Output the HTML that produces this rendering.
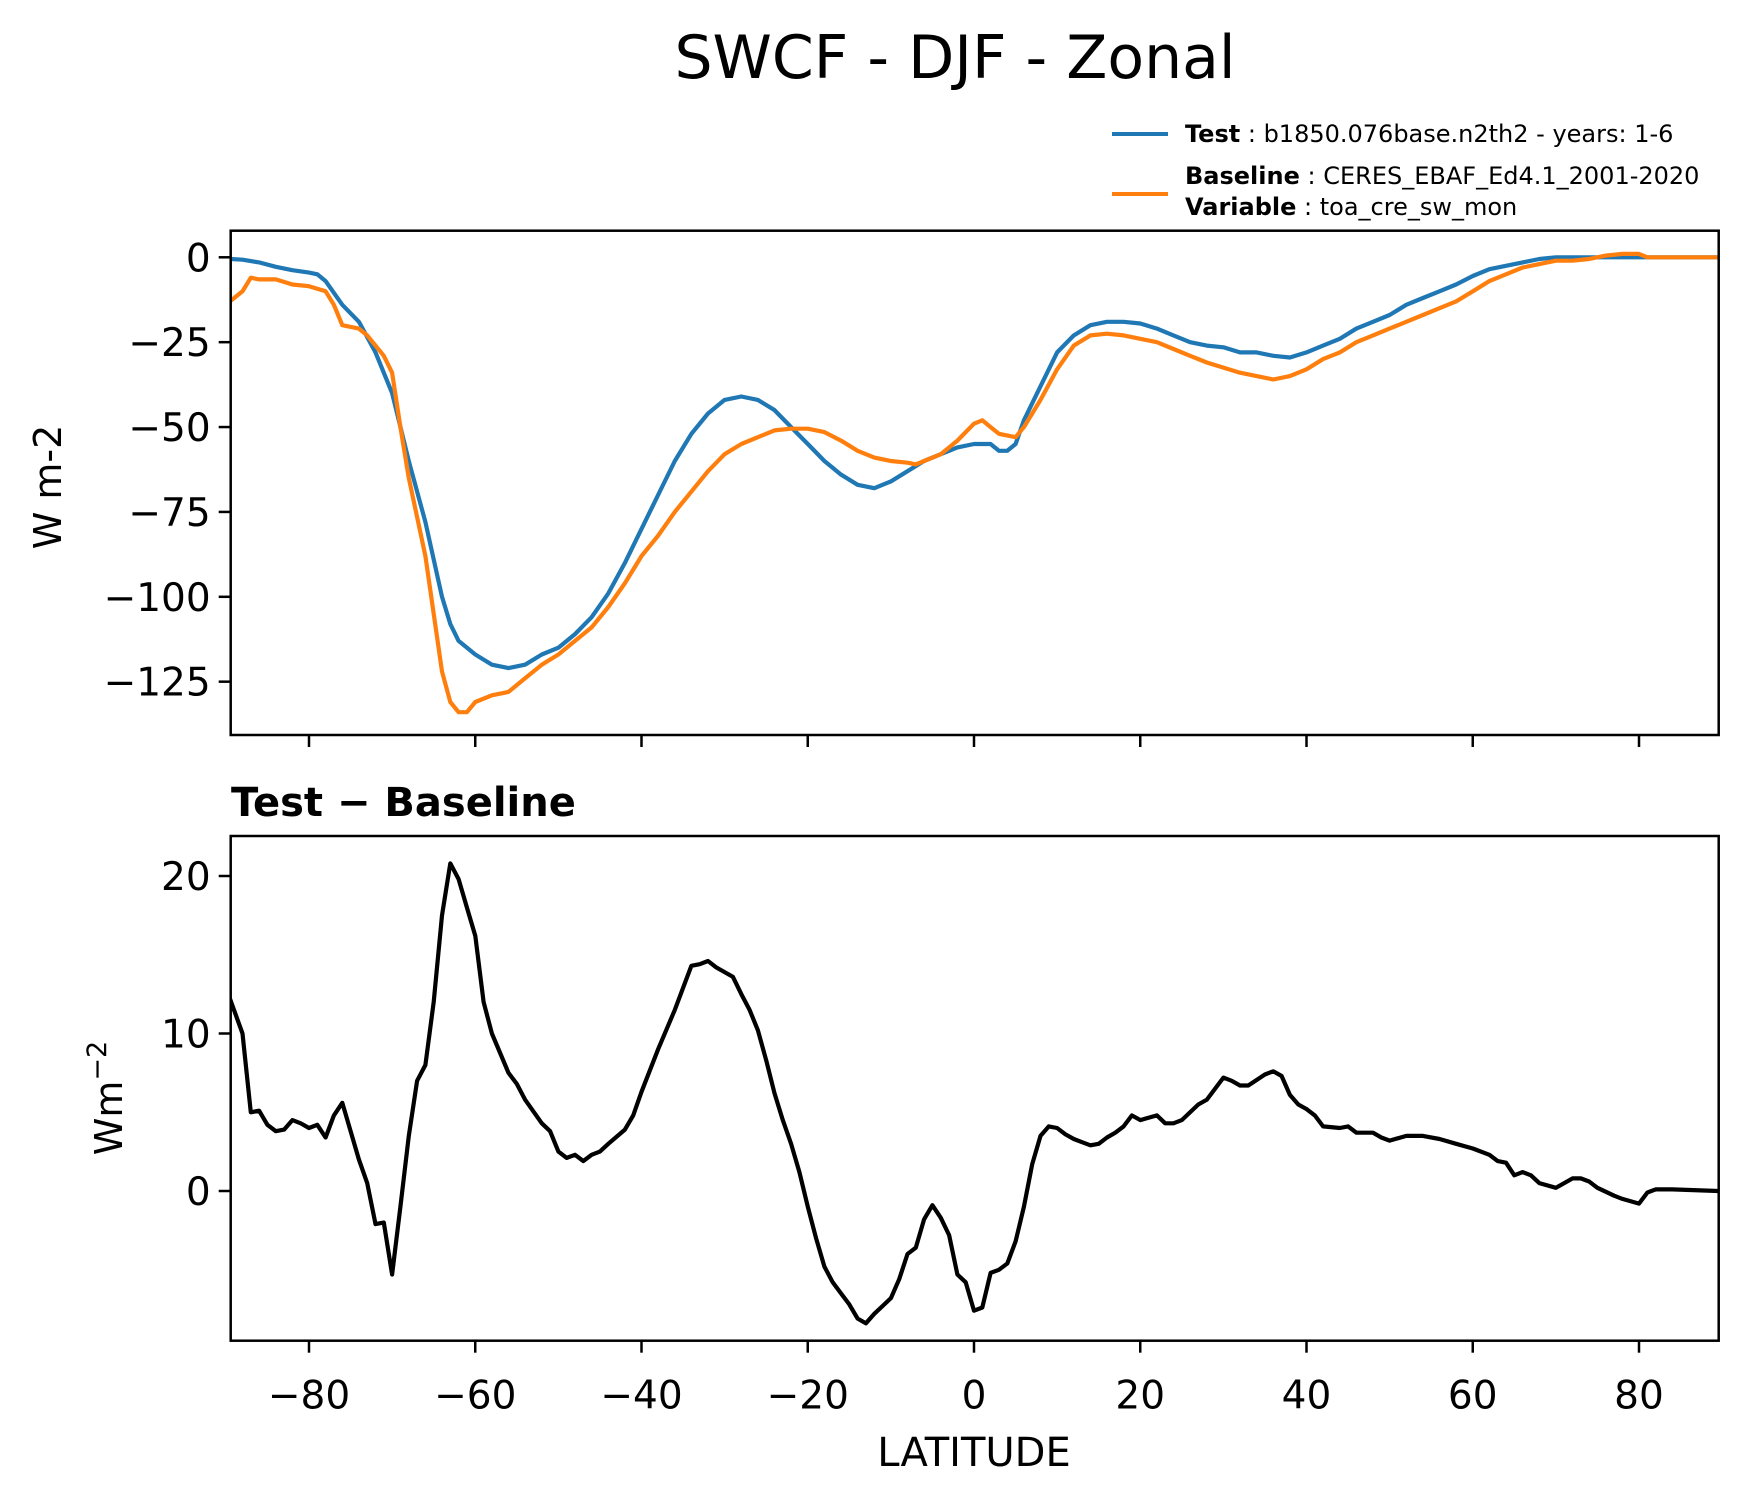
<!DOCTYPE html>
<html><head><meta charset="utf-8"><style>
html,body{margin:0;padding:0;background:#fff;}
svg{display:block;font-family:"DejaVu Sans","Liberation Sans",sans-serif;}
</style></head><body>
<svg id="chart" width="1748" height="1496" viewBox="0 0 1748 1496" xmlns="http://www.w3.org/2000/svg">
<text x="955" y="78" font-size="60" text-anchor="middle">SWCF - DJF - Zonal</text>
<g>
<line x1="1112" y1="134" x2="1168" y2="134" stroke="#1f77b4" stroke-width="4"/>
<text x="1185" y="142" font-size="24"><tspan font-weight="bold">Test</tspan> : b1850.076base.n2th2 - years: 1-6</text>
<line x1="1112" y1="194" x2="1168" y2="194" stroke="#ff7f0e" stroke-width="4"/>
<text x="1185" y="184" font-size="24"><tspan font-weight="bold">Baseline</tspan> : CERES_EBAF_Ed4.1_2001-2020</text>
<text x="1185" y="215" font-size="24"><tspan font-weight="bold">Variable</tspan> : toa_cre_sw_mon</text>
</g>
<g id="topPanel"></g>
<g id="botPanel"></g>
<text x="231" y="816" font-size="40" font-weight="bold">Test − Baseline</text>
<text transform="translate(61,487) rotate(-90)" font-size="38" text-anchor="middle">W m-2</text>
<text transform="translate(122,1098) rotate(-90)" font-size="38" text-anchor="middle">Wm<tspan dy="-16" font-size="27">−2</tspan></text>
<text x="974" y="1466" font-size="40" text-anchor="middle">LATITUDE</text>
</svg>
<script>
const testLat=[-89.5,-88,-86,-84,-82,-80,-79,-78,-76,-74,-72,-70,-68,-66,-64,-63,-62,-60,-58,-56,-54,-52,-50,-48,-46,-44,-42,-40,-38,-36,-34,-32,-30,-28,-26,-24,-22,-20,-18,-16,-14,-12,-10,-8,-6,-4,-2,0,2,3,4,5,6,8,10,12,14,16,18,20,22,24,26,28,30,32,34,36,38,40,42,44,46,48,50,52,54,56,58,60,62,64,66,68,70,75,80,85,89.5];
const testVal=[-0.5,-0.7,-1.5,-2.8,-3.8,-4.5,-5,-7,-14,-19,-28,-40,-60,-78,-100,-108,-113,-117,-120,-121,-120,-117,-115,-111,-106,-99,-90,-80,-70,-60,-52,-46,-42,-41,-42,-45,-50,-55,-60,-64,-67,-68,-66,-63,-60,-58,-56,-55,-55,-57,-57,-55,-48,-38,-28,-23,-20,-19,-19,-19.5,-21,-23,-25,-26,-26.5,-28,-28,-29,-29.5,-28,-26,-24,-21,-19,-17,-14,-12,-10,-8,-5.5,-3.5,-2.5,-1.5,-0.5,0,0,0,0,0];
const baseLat=[-89.5,-88,-87,-86,-84,-82,-80,-78,-77,-76,-74,-73,-71,-70,-69,-68,-66,-65,-64,-63,-62,-61,-60,-58,-56,-54,-52,-50,-48,-46,-44,-42,-40,-38,-36,-34,-32,-30,-28,-26,-24,-22,-20,-18,-16,-14,-12,-10,-8,-7,-6,-4,-2,0,1,2,3,5,6,8,10,12,14,16,18,20,22,24,26,28,30,32,34,36,38,40,42,44,46,48,50,52,54,56,58,60,62,64,66,68,70,72,74,76,78,80,81,85,89.5];
const baseVal=[-13,-10,-6,-6.5,-6.5,-8,-8.5,-10,-14,-20,-21,-23,-29,-34,-50,-65,-88,-105,-122,-131,-134,-134,-131,-129,-128,-124,-120,-117,-113,-109,-103,-96,-88,-82,-75,-69,-63,-58,-55,-53,-51,-50.5,-50.5,-51.5,-54,-57,-59,-60,-60.5,-61,-60,-58,-54,-49,-48,-50,-52,-53,-50,-42,-33,-26,-23,-22.5,-23,-24,-25,-27,-29,-31,-32.5,-34,-35,-36,-35,-33,-30,-28,-25,-23,-21,-19,-17,-15,-13,-10,-7,-5,-3,-2,-1,-1,-0.5,0.5,1,1,0,0,0];
const diffLat=[-89.5,-88,-87,-86,-85,-84,-83,-82,-81,-80,-79,-78,-77,-76,-74,-73,-72,-71,-70,-69,-68,-67,-66,-65,-64,-63,-62,-61,-60,-59,-58,-56,-55,-54,-52,-51,-50,-49,-48,-47,-46,-45,-44,-42,-41,-40,-38,-36,-34,-33,-32,-31,-29,-28,-27,-26,-25,-24,-23,-22,-21,-20,-19,-18,-17,-16,-15,-14,-13,-12,-11,-10,-9,-8,-7,-6,-5,-4,-3,-2,-1,0,1,2,3,4,5,6,7,8,9,10,11,12,13,14,15,16,17,18,19,20,22,23,24,25,27,28,30,31,32,33,35,36,37,38,39,40,41,42,44,45,46,47,48,49,50,52,54,56,58,60,62,63,64,65,66,67,68,70,72,73,74,75,77,78,80,81,82,84,89.5];
const diffVal=[12.2,10,5,5.1,4.2,3.8,3.9,4.5,4.3,4.0,4.2,3.4,4.8,5.6,2,0.5,-2.1,-2,-5.3,-1,3.5,7,8,12,17.5,20.8,19.8,18,16.2,12,10,7.5,6.8,5.8,4.3,3.8,2.5,2.1,2.3,1.9,2.3,2.5,3,3.9,4.8,6.3,9,11.5,14.3,14.4,14.6,14.2,13.6,12.5,11.5,10.2,8.3,6.2,4.5,3,1.2,-1,-3,-4.8,-5.8,-6.5,-7.2,-8.1,-8.4,-7.8,-7.3,-6.8,-5.6,-4,-3.6,-1.8,-0.9,-1.7,-2.8,-5.3,-5.8,-7.6,-7.4,-5.2,-5.0,-4.6,-3.2,-1,1.7,3.5,4.1,4.0,3.6,3.3,3.1,2.9,3.0,3.4,3.7,4.1,4.8,4.5,4.8,4.3,4.3,4.5,5.5,5.8,7.2,7.0,6.7,6.7,7.4,7.6,7.3,6.1,5.5,5.2,4.8,4.1,4.0,4.1,3.7,3.7,3.7,3.4,3.2,3.5,3.5,3.3,3.0,2.7,2.3,1.9,1.8,1.0,1.2,1.0,0.5,0.2,0.8,0.8,0.6,0.2,-0.3,-0.5,-0.8,-0.1,0.1,0.1,0];
const xTicks=[-80,-60,-40,-20,0,20,40,60,80];
const topTicks=[0,-25,-50,-75,-100,-125];
const botTicks=[20,10,0];

const NS='http://www.w3.org/2000/svg';
const L=230.7,R=1718.7;
const xs=v=>974+v*8.3125;
const yTop=v=>257.3-3.395*v;
const yBot=v=>1191-15.75*v;
function mk(parent,tag,attrs){const e=document.createElementNS(NS,tag);for(const k in attrs)e.setAttribute(k,attrs[k]);parent.appendChild(e);return e;}
function lineOf(lat,val,ys){return lat.map((a,i)=>(i?'L':'M')+xs(a).toFixed(1)+','+ys(val[i]).toFixed(1)).join(' ');}
function panel(g,y0,y1,ys,ticks,showLabels){
  for(const t of ticks){
    const y=ys(t);
    const tk=mk(g,'line',{x1:L-12,x2:L,y1:y,y2:y,stroke:'#000','stroke-width':2.5});
    
    
    const tx=mk(g,'text',{x:L-20,y:y+14,'font-size':39,'text-anchor':'end'});
    tx.textContent=(t<0?'−':'')+Math.abs(t);
    
    
  }
  for(const t of xTicks){
    const x=xs(t);
    const tk=mk(g,'line',{x1:x,x2:x,y1:y1,y2:y1+12,stroke:'#000','stroke-width':2.5});
    
    
    if(showLabels){
      const tx=mk(g,'text',{x:x,y:y1+68,'font-size':39,'text-anchor':'middle'});
      tx.textContent=(t<0?'−':'')+Math.abs(t);
      
      
    }
  }
}
const topG=document.getElementById('topPanel'),botG=document.getElementById('botPanel');
panel(topG,230.7,735,yTop,topTicks,false);
panel(botG,836,1340.7,yBot,botTicks,true);
const defs=mk(document.getElementById('chart'),'defs',{});
const c1=mk(defs,'clipPath',{id:'c1'});mk(c1,'rect',{x:L,y:230.7,width:R-L,height:735-230.7});
const c2=mk(defs,'clipPath',{id:'c2'});mk(c2,'rect',{x:L,y:836,width:R-L,height:1340.7-836});
const pt=mk(topG,'path',{d:lineOf(testLat,testVal,yTop),fill:'none',stroke:'#1f77b4','stroke-width':4.2,'stroke-linejoin':'round','clip-path':'url(#c1)'});


const pb=mk(topG,'path',{d:lineOf(baseLat,baseVal,yTop),fill:'none',stroke:'#ff7f0e','stroke-width':4.2,'stroke-linejoin':'round','clip-path':'url(#c1)'});


const pd=mk(botG,'path',{d:lineOf(diffLat,diffVal,yBot),fill:'none',stroke:'#000','stroke-width':4.2,'stroke-linejoin':'round','clip-path':'url(#c2)'});


const f1=mk(topG,'rect',{x:L,y:230.7,width:R-L,height:735-230.7,fill:'none',stroke:'#000','stroke-width':2.5});


const f2=mk(botG,'rect',{x:L,y:836,width:R-L,height:1340.7-836,fill:'none',stroke:'#000','stroke-width':2.5});


</script>
</body></html>
